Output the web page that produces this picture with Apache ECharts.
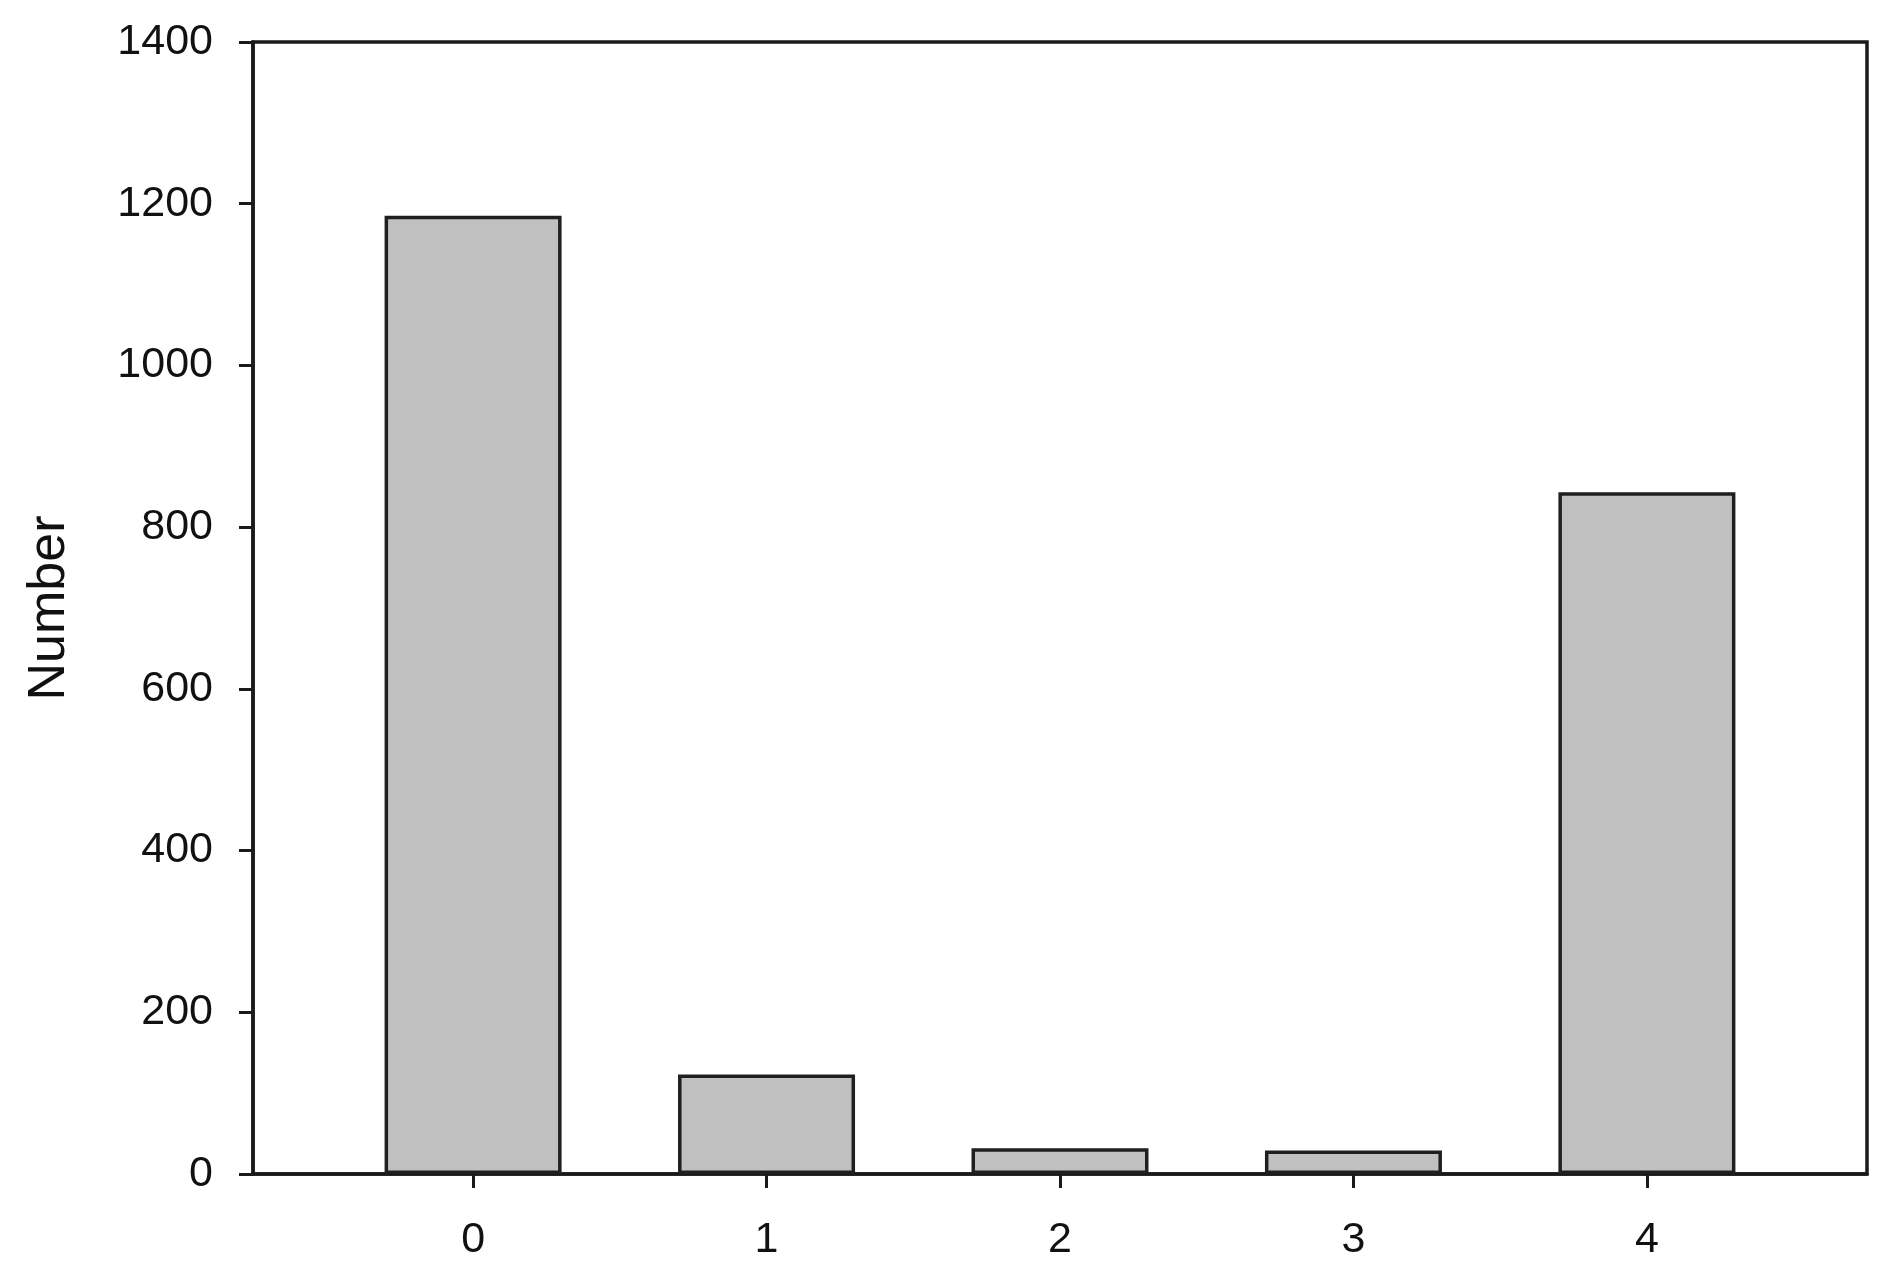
<!DOCTYPE html>
<html>
<head>
<meta charset="utf-8">
<script src="https://cdn.jsdelivr.net/npm/echarts@6/dist/echarts.min.js"></script>
<style>
  html, body { margin: 0; padding: 0; background: #fff; }
  #main { width: 1900px; height: 1273px; }
</style>
</head>
<body>
<div id="main"></div>
<script>
// data
var categories = ['0', '1', '2', '3', '4'];
var counts = [1185, 123, 32, 29, 843];
var yTicks = [0, 200, 400, 600, 800, 1000, 1200, 1400];

var positions = categories.map(function (c, i) { return i; });

var chart = echarts.init(document.getElementById('main'));
chart.setOption({
    animation: false,
    backgroundColor: '#fff',
    textStyle: { fontFamily: 'Liberation Sans, Arial, sans-serif' },
    grid: {
        left: 253, right: 33, top: 42, bottom: 99,
        show: true, borderColor: '#1a1a1a', borderWidth: 3.5,
        backgroundColor: 'transparent'
    },
    xAxis: {
        type: 'value',
        min: -0.75,
        max: 4.75,
        splitLine: { show: false },
        axisLine: { onZero: false, lineStyle: { color: '#1a1a1a', width: 3.5 } },
        axisTick: {
            customValues: positions,
            length: 14,
            lineStyle: { color: '#1a1a1a', width: 3 }
        },
        axisLabel: {
            customValues: positions,
            margin: 45,
            fontSize: 43,
            color: '#111',
            formatter: function (v) { return categories[Math.round(v)]; }
        }
    },
    yAxis: {
        type: 'value',
        min: yTicks[0],
        max: yTicks[yTicks.length - 1],
        interval: 200,
        name: 'Number',
        nameLocation: 'middle',
        nameGap: 177,
        nameTextStyle: { fontSize: 52, color: '#111' },
        splitLine: { show: false },
        axisLine: { show: true, onZero: false, lineStyle: { color: '#1a1a1a', width: 3.5 } },
        axisTick: { show: true, length: 14, lineStyle: { color: '#1a1a1a', width: 3 } },
        axisLabel: {
            margin: 40, fontSize: 43, color: '#111',
            formatter: function (v) { return String(v); }
        }
    },
    series: [{
        type: 'bar',
        barWidth: 177,
        data: positions.map(function (p, i) { return [p, counts[i]]; }),
        itemStyle: { color: '#c0c0c0', borderColor: '#1f1f1f', borderWidth: 3.5 }
    }]
});
</script>
</body>
</html>
